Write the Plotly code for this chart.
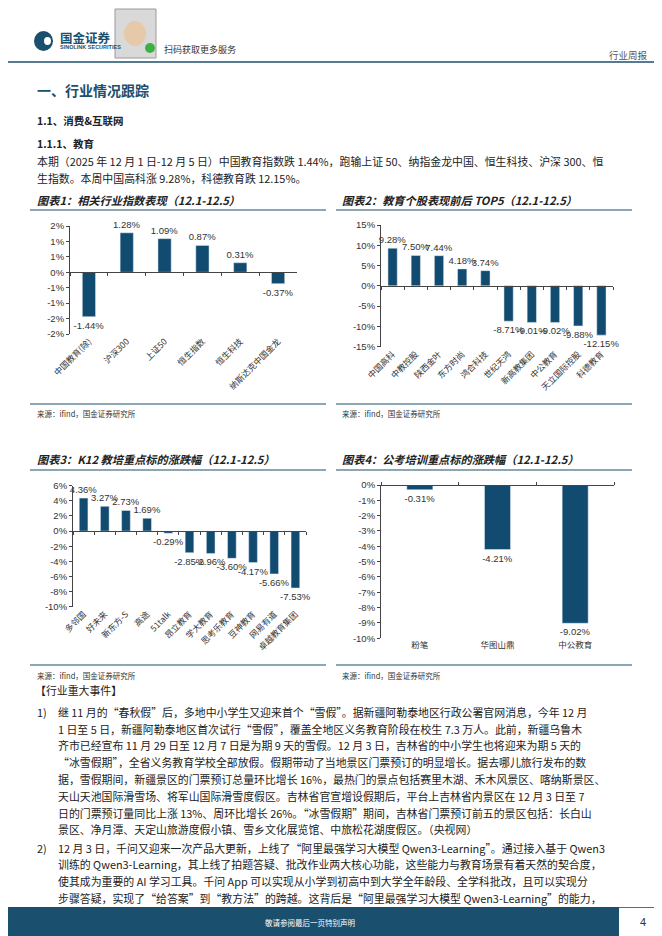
import plotly.graph_objects as go

# ---------------- data ----------------
c1_cats = ["中国教育(除)", "沪深300", "上证50", "恒生指数", "恒生科技", "纳斯达克中国金龙"]
c1_vals = [-1.44, 1.28, 1.09, 0.87, 0.31, -0.37]
c1_tickvals = [-2.0, -1.5, -1.0, -0.5, 0.0, 0.5, 1.0, 1.5]
c1_ticktext = ["-2%", "-2%", "-1%", "-1%", "0%", "1%", "1%", "2%"]

c2_cats = ["中国高科", "中教控股", "陕西金叶", "东方时尚", "鸿合科技",
           "世纪天鸿", "新高教集团", "中公教育", "天立国际控股", "科德教育"]
c2_vals = [9.28, 7.50, 7.44, 4.18, 3.74, -8.71, -9.01, -9.02, -9.88, -12.15]
c2_tickvals = [-15, -10, -5, 0, 5, 10, 15]
c2_ticktext = ["-15%", "-10%", "-5%", "0%", "5%", "10%", "15%"]

c3_cats = ["多邻国", "好未来", "新东方-S", "高途", "51talk", "昂立教育",
           "学大教育", "思考乐教育", "豆神教育", "网易有道", "卓越教育集团"]
c3_vals = [4.36, 3.27, 2.73, 1.69, -0.29, -2.85, -2.96, -3.60, -4.17, -5.66, -7.53]
c3_tickvals = [-10, -8, -6, -4, -2, 0, 2, 4, 6]
c3_ticktext = ["-10%", "-8%", "-6%", "-4%", "-2%", "0%", "2%", "4%", "6%"]

c4_cats = ["粉笔", "华图山鼎", "中公教育"]
c4_vals = [-0.31, -4.21, -9.02]
c4_tickvals = [-10, -9, -8, -7, -6, -5, -4, -3, -2, -1, 0]
c4_ticktext = ["-10%", "-9%", "-8%", "-7%", "-6%", "-5%", "-4%", "-3%", "-2%", "-1%", "0%"]

# ---------------- page geometry ----------------
# the page body has an 8px margin, so the figure is shrunk and shifted to line up
OFF = 8
W, H = 662 - OFF, 936 - OFF
def px(x): return (x - OFF) / W
def py(y): return 1 - (y - OFF) / H

BAR = "#124b70"
DARK = "#1b4f6e"
CJK = "Noto Sans CJK SC"
NUM = "Liberation Sans"
TXT = "#222222"

fig = go.Figure()
annotations = []
shapes = []

def ann(text, x, y, size=11, color=TXT, xanchor="left", family=CJK):
    annotations.append(dict(text=text, x=px(x), y=py(y), xref="paper", yref="paper",
                            xanchor=xanchor, yanchor="middle", showarrow=False,
                            font=dict(size=size, color=color, family=family)))

def hline(x0, x1, y, color=DARK, width=1.2):
    shapes.append(dict(type="line", xref="paper", yref="paper", x0=px(x0), x1=px(x1),
                       y0=py(y), y1=py(y), line=dict(color=color, width=width)))

def add_chart(i, cats, vals, xl, xr, ytop, ybot, yr, tv, tt, bw, angle, tick_side):
    xa = "x" if i == 1 else f"x{i}"
    ya = "y" if i == 1 else f"y{i}"
    xo = f"x{i+4}"
    dom_x = [px(xl), px(xr)]
    dom_y = [py(ybot), py(ytop)]
    fig.add_trace(go.Bar(x=cats, y=vals, xaxis=xa, yaxis=ya, marker_color=BAR, width=bw,
                         text=[f"{v:.2f}%" for v in vals], textposition="outside",
                         constraintext="none", cliponaxis=False,
                         textfont=dict(family=NUM, size=9.5, color="#333333"),
                         hoverinfo="skip", showlegend=False))
    fig.add_trace(go.Scatter(x=cats, y=vals, xaxis=xo, yaxis=ya, mode="markers",
                             marker=dict(opacity=0), hoverinfo="skip", showlegend=False))
    zero_pos = dom_y[0] + (0 - yr[0]) / (yr[1] - yr[0]) * (dom_y[1] - dom_y[0])
    n = len(cats)
    fig.update_layout(**{
        ("xaxis" if i == 1 else f"xaxis{i}"): dict(
            domain=dom_x, anchor=ya, type="category", range=[-0.5, n - 0.5],
            showline=False, ticks="", tickangle=angle, showgrid=False, automargin=False,
            tickfont=dict(family=CJK, size=8.5, color="#333333")),
        ("yaxis" if i == 1 else f"yaxis{i}"): dict(
            domain=dom_y, anchor=xa, range=yr, showline=True, linecolor="#444444",
            linewidth=1, ticks="outside", ticklen=3, tickcolor="#444444",
            tickvals=tv, ticktext=tt, showgrid=False, zeroline=False, automargin=False,
            tickfont=dict(family=NUM, size=9.5, color="#333333")),
        f"xaxis{i+4}": dict(
            domain=dom_x, overlaying=xa, anchor="free", position=zero_pos,
            side=tick_side, type="category", range=[-0.5, n - 0.5], automargin=False,
            showline=True, linecolor="#444444", linewidth=1, ticks="outside",
            tickson="boundaries", ticklen=3, tickcolor="#444444",
            showticklabels=False, showgrid=False),
    })

add_chart(1, c1_cats, c1_vals, 70, 297, 226, 334, [-2.0, 1.5], c1_tickvals, c1_ticktext, 0.35, -45, "bottom")
add_chart(2, c2_cats, c2_vals, 381, 613, 225, 346.7, [-15, 15], c2_tickvals, c2_ticktext, 0.40, -45, "bottom")
add_chart(3, c3_cats, c3_vals, 73, 306, 485.7, 606.7, [-10, 6], c3_tickvals, c3_ticktext, 0.41, -45, "bottom")
add_chart(4, c4_cats, c4_vals, 381, 614, 485, 638.3, [-10, 0], c4_tickvals, c4_ticktext, 0.335, 0, "top")

# ---------------- header ----------------
shapes.append(dict(type="circle", xref="paper", yref="paper", x0=px(34), x1=px(53),
                   y0=py(51), y1=py(31), fillcolor=DARK, line=dict(width=0)))
shapes.append(dict(type="circle", xref="paper", yref="paper", x0=px(44), x1=px(51),
                   y0=py(45), y1=py(37), fillcolor="white", line=dict(width=0)))
ann("<b>国金证券</b>", 58, 37, size=12.5, color=DARK)
ann("<b>SINOLINK SECURITIES</b>", 58, 47, size=5.5, color=DARK, family=NUM)
# QR code placeholder
shapes.append(dict(type="rect", xref="paper", yref="paper", x0=px(115), x1=px(156),
                   y0=py(58), y1=py(9), fillcolor="#d9d9d9", line=dict(color="#9a9a9a", width=1)))
shapes.append(dict(type="circle", xref="paper", yref="paper", x0=px(124), x1=px(146),
                   y0=py(46), y1=py(21), fillcolor="#e6c9a8", line=dict(width=0)))
shapes.append(dict(type="circle", xref="paper", yref="paper", x0=px(145), x1=px(155),
                   y0=py(53), y1=py(43), fillcolor="#3cb043", line=dict(width=0)))
ann("扫码获取更多服务", 162, 49, size=9, color="#333333")
ann("行业周报", 650, 55, size=9.5, color="#555555", xanchor="right")
hline(0, 662, 62, color=DARK, width=1.5)

# ---------------- section headings & text ----------------
ann("<b>一、行业情况跟踪</b>", 35, 90, size=14, color=DARK)
ann("<b>1.1、消费&互联网</b>", 35, 120, size=10.5)
ann("<b>1.1.1、教育</b>", 35, 143, size=10.5)
ann("本期（2025 年 12 月 1 日-12 月 5 日）中国教育指数跌 1.44%，跑输上证 50、纳指金龙中国、恒生科技、沪深 300、恒", 35, 161, size=10.9)
ann("生指数。本周中国高科涨 9.28%，科德教育跌 12.15%。", 35, 178, size=10.9)

ann("<b><i>图表1：相关行业指数表现（12.1-12.5）</i></b>", 35, 200, size=11.2)
ann("<b><i>图表2：教育个股表现前后 TOP5（12.1-12.5）</i></b>", 340, 200, size=11.2)
hline(30, 326, 210)
hline(336, 632, 210)
hline(30, 326, 404)
hline(336, 632, 404)
ann("来源：ifind，国金证券研究所", 35, 413, size=7.5, color="#333333")
ann("来源：ifind，国金证券研究所", 340, 413, size=7.5, color="#333333")

ann("<b><i>图表3：K12 教培重点标的涨跌幅（12.1-12.5）</i></b>", 35, 459, size=11.2)
ann("<b><i>图表4：公考培训重点标的涨跌幅（12.1-12.5）</i></b>", 340, 459, size=11.2)
hline(30, 326, 470)
hline(336, 632, 470)
hline(30, 326, 665)
hline(336, 632, 665)
ann("来源：ifind，国金证券研究所", 35, 675, size=7.5, color="#333333")
ann("来源：ifind，国金证券研究所", 340, 675, size=7.5, color="#333333")

ann("【行业重大事件】", 33, 690, size=10.9)

item1 = [
    "继 11 月的“春秋假”后，多地中小学生又迎来首个“雪假”。据新疆阿勒泰地区行政公署官网消息，今年 12 月",
    "1 日至 5 日，新疆阿勒泰地区首次试行“雪假”，覆盖全地区义务教育阶段在校生 7.3 万人。此前，新疆乌鲁木",
    "齐市已经宣布 11 月 29 日至 12 月 7 日是为期 9 天的雪假。12 月 3 日，吉林省的中小学生也将迎来为期 5 天的",
    "“冰雪假期”，全省义务教育学校全部放假。假期带动了当地景区门票预订的明显增长。据去哪儿旅行发布的数",
    "据，雪假期间，新疆景区的门票预订总量环比增长 16%，最热门的景点包括赛里木湖、禾木风景区、喀纳斯景区、",
    "天山天池国际滑雪场、将军山国际滑雪度假区。吉林省官宣增设假期后，平台上吉林省内景区在 12 月 3 日至 7",
    "日的门票预订量同比上涨 13%、周环比增长 26%。“冰雪假期”期间，吉林省门票预订前五的景区包括：长白山",
    "景区、净月潭、天定山旅游度假小镇、雪乡文化展览馆、中旅松花湖度假区。（央视网）",
]
item2 = [
    "12 月 3 日，千问又迎来一次产品大更新，上线了“阿里最强学习大模型 Qwen3-Learning”。通过接入基于 Qwen3",
    "训练的 Qwen3-Learning，其上线了拍题答疑、批改作业两大核心功能，这些能力与教育场景有着天然的契合度，",
    "使其成为重要的 AI 学习工具。千问 App 可以实现从小学到初高中到大学全年龄段、全学科批改，且可以实现分",
    "步骤答疑，实现了“给答案”到“教方法”的跨越。这背后是“阿里最强学习大模型 Qwen3-Learning”的能力，",
]
y1 = [712, 729, 745, 762, 779, 796, 813, 829]
y2 = [848, 864, 881, 898]
ann("1)", 35, y1[0], size=10.9)
for t, yy in zip(item1, y1):
    ann(t, 56, yy, size=10.9)
ann("2)", 35, y2[0], size=10.9)
for t, yy in zip(item2, y2):
    ann(t, 56, yy, size=10.9)

# ---------------- footer ----------------
shapes.append(dict(type="rect", xref="paper", yref="paper", x0=px(8), x1=px(619),
                   y0=0, y1=py(907), fillcolor=DARK, line=dict(width=0)))
hline(619, 662, 907.5, color=DARK, width=0.8)
ann("敬请参阅最后一页特别声明", 310, 922, size=7.5, color="white", xanchor="center")
ann("4", 643, 922, size=11, color="#333333", xanchor="center", family=NUM)

fig.update_layout(width=W, height=H, margin=dict(l=0, r=0, t=0, b=0, autoexpand=False),
                  paper_bgcolor="white", plot_bgcolor="white",
                  font=dict(family=CJK), annotations=annotations, shapes=shapes,
                  showlegend=False)

fig.write_html("out.html")
